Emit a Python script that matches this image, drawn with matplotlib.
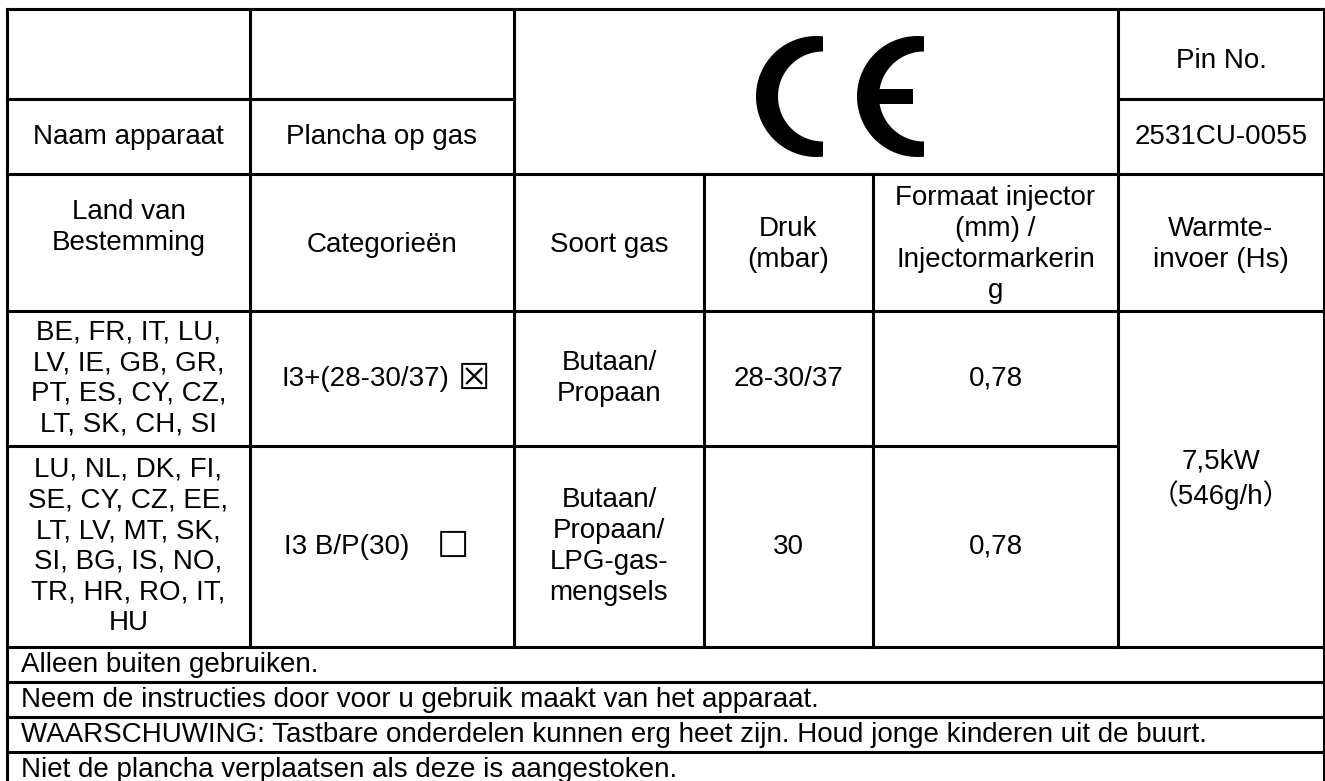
import numpy as np
import matplotlib.pyplot as plt

plt.rcParams['font.family'] = ['Liberation Sans', 'DejaVu Sans', 'Noto Sans CJK JP']

# table content
device_label = "Naam apparaat"
device_name = "Plancha op gas"
pin_label = "Pin No."
pin_number = "2531CU-0055"
headers = ["Land van\nBestemming", "Categorieën", "Soort gas", "Druk\n(mbar)",
           "Formaat injector\n(mm) /\nInjectormarkerin\ng", "Warmte-\ninvoer (Hs)"]
countries = ["BE, FR, IT, LU,\nLV, IE, GB, GR,\nPT, ES, CY, CZ,\nLT, SK, CH, SI",
             "LU, NL, DK, FI,\nSE, CY, CZ, EE,\nLT, LV, MT, SK,\nSI, BG, IS, NO,\nTR, HR, RO, IT,\nHU"]
categories = ["I3+(28-30/37)", "I3 B/P(30)"]
category_boxes = ["\u2612", "\u2610"]
gas_types = ["Butaan/\nPropaan", "Butaan/\nPropaan/\nLPG-gas-\nmengsels"]
pressures = ["28-30/37", "30"]
injectors = ["0,78", "0,78"]
heat_input = "7,5kW\n\uff08546g/h\uff09"
notes = ["Alleen buiten gebruiken.",
         "Neem de instructies door voor u gebruik maakt van het apparaat.",
         "WAARSCHUWING: Tastbare onderdelen kunnen erg heet zijn. Houd jonge kinderen uit de buurt.",
         "Niet de plancha verplaatsen als deze is aangestoken."]

# grid in pixels
col_x = [7, 250, 514, 704, 873, 1118, 1324]
row_y = [9, 99, 174, 311, 446, 647, 682, 717, 752, 787]
FS = 20
LS = 1.24
LW = 2.2

fig = plt.figure(figsize=(13.25, 7.81), dpi=100)
ax = fig.add_axes([0, 0, 1, 1])
ax.set_xlim(0, 1325)
ax.set_ylim(781, 0)
ax.axis('off')


def hline(y, x0, x1):
    ax.plot([x0, x1], [y, y], color='k', lw=LW, solid_capstyle='projecting')


def vline(x, y0, y1):
    ax.plot([x, x], [y0, y1], color='k', lw=LW, solid_capstyle='projecting')


def cell(text, c0, c1, r0, r1, dy=0, **kw):
    ax.text((col_x[c0] + col_x[c1]) / 2, (row_y[r0] + row_y[r1]) / 2 + dy, text,
            ha='center', va='center', fontsize=FS, linespacing=LS, **kw)


# horizontal rules
hline(row_y[0], col_x[0], col_x[6])
hline(row_y[1], col_x[0], col_x[2])
hline(row_y[1], col_x[5], col_x[6])
for r in (2, 3):
    hline(row_y[r], col_x[0], col_x[6])
hline(row_y[4], col_x[0], col_x[5])
for r in range(5, 10):
    hline(row_y[r], col_x[0], col_x[6])

# vertical rules
vline(col_x[0], row_y[0], row_y[9])
vline(col_x[6], row_y[0], row_y[9])
for c in (1, 2, 5):
    vline(col_x[c], row_y[0], row_y[5])
for c in (3, 4):
    vline(col_x[c], row_y[2], row_y[5])

# CE mark: outer circle arc + offset inner circle arc
R, r_in, off, cy = 60.5, 45.0, 6.5, 96.5
a0 = np.degrees(np.arccos(off / R))
t_out = np.radians(np.linspace(a0, 360 - a0, 120))
t_in = np.radians(np.linspace(270, 90, 120))
for cx, bar in ((816.5, False), (917.5, True)):
    xs = np.concatenate([cx + R * np.cos(t_out), cx + off + r_in * np.cos(t_in)])
    ys = np.concatenate([cy + R * np.sin(t_out), cy + r_in * np.sin(t_in)])
    ax.fill(xs, ys, color='k', lw=0)
    if bar:
        ax.fill([cx - 45, cx - 4.5, cx - 4.5, cx - 45],
                [cy - 7.5, cy - 7.5, cy + 7.5, cy + 7.5], color='k', lw=0)

# top block
cell(device_label, 0, 1, 1, 2)
cell(device_name, 1, 2, 1, 2)
cell(pin_label, 5, 6, 0, 1, dy=7)
cell(pin_number, 5, 6, 1, 2)

# header row
for i, h in enumerate(headers):
    cell(h, i, i + 1, 2, 3, dy=-15 if i == 0 else 2)

# gas rows
text_right = [449, 409]
box_center = [474, 452.5]
for k in range(2):
    r0, r1 = 3 + k, 4 + k
    ym = (row_y[r0] + row_y[r1]) / 2
    cell(countries[k], 0, 1, r0, r1)
    ax.text(text_right[k], ym, categories[k], ha='right', va='center', fontsize=FS)
    ax.text(box_center[k], ym, category_boxes[k], ha='center', va='center',
            fontsize=26, family='DejaVu Sans')
    cell(gas_types[k], 2, 3, r0, r1)
    cell(pressures[k], 3, 4, r0, r1)
    cell(injectors[k], 4, 5, r0, r1)
cell(heat_input, 5, 6, 3, 5)

# notes
for i, n in enumerate(notes):
    ax.text(21, row_y[5 + i] + 25, n, ha='left', va='baseline', fontsize=FS)

fig.savefig('out.png', dpi=100)
